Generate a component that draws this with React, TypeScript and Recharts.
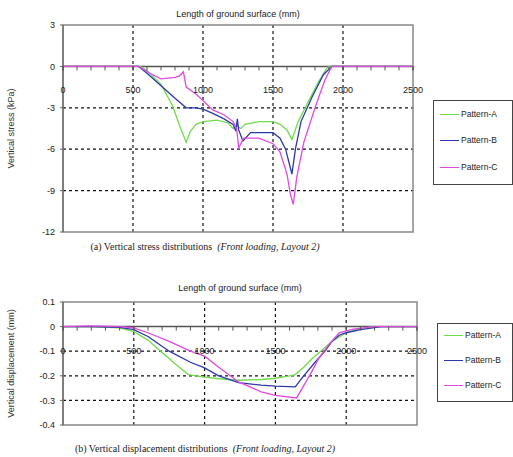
import React from 'react';
import { LineChart, Line, XAxis, YAxis, CartesianGrid, ReferenceLine, ReferenceDot, ReferenceArea } from 'recharts';

// ---------- Data: (a) vertical stress ----------
const stressAx = [0, 550, 600, 700, 780, 840, 880, 910, 950, 1000, 1100, 1180, 1215, 1240, 1270, 1300, 1400, 1500, 1550, 1600, 1635, 1680, 1750, 1820, 1880, 1900, 2500];
const stressAy = [0, 0, -0.3, -1.3, -2.8, -4.5, -5.5, -4.7, -4.2, -4.0, -3.9, -4.1, -4.5, -4.3, -4.5, -4.2, -4.0, -4.0, -4.2, -4.6, -5.3, -4.0, -2.6, -1.2, -0.2, 0, 0];
const stressBx = [0, 540, 600, 700, 800, 880, 950, 1000, 1070, 1150, 1215, 1235, 1245, 1255, 1285, 1340, 1400, 1500, 1550, 1590, 1620, 1635, 1660, 1700, 1780, 1860, 1920, 2500];
const stressBy = [0, 0, -0.5, -1.4, -2.3, -3.0, -3.0, -3.1, -3.4, -3.8, -4.2, -4.7, -3.8, -4.6, -5.4, -4.8, -4.8, -4.8, -5.2, -6.0, -7.2, -7.8, -6.0, -4.0, -2.2, -0.6, 0, 0];
const stressCx = [0, 540, 620, 700, 800, 830, 860, 880, 950, 1070, 1150, 1215, 1240, 1255, 1290, 1340, 1400, 1500, 1550, 1600, 1625, 1645, 1670, 1720, 1800, 1870, 1920, 2500];
const stressCy = [0, 0, -0.5, -0.9, -0.8, -0.7, -0.4, -1.5, -2.0, -3.15, -3.5, -4.0, -4.5, -5.9, -5.2, -5.2, -5.2, -5.6, -6.2, -7.8, -9.3, -10.0, -8.0, -5.5, -3.0, -1.0, 0, 0];

// ---------- Data: (b) vertical displacement ----------
const dispAx = [0, 200, 400, 500, 600, 720, 800, 885, 1000, 1100, 1250, 1400, 1500, 1600, 1640, 1700, 1760, 1820, 1900, 2000, 2080, 2200, 2500];
const dispAy = [0, 0, -0.005, -0.02, -0.055, -0.115, -0.155, -0.195, -0.205, -0.212, -0.218, -0.215, -0.21, -0.2, -0.195, -0.165, -0.13, -0.1, -0.06, -0.025, -0.01, 0, 0];
const dispBx = [0, 200, 400, 500, 600, 750, 900, 1000, 1100, 1240, 1400, 1500, 1640, 1700, 1780, 1850, 1900, 1950, 2000, 2100, 2250, 2500];
const dispBy = [0, 0, -0.003, -0.012, -0.04, -0.1, -0.145, -0.168, -0.2, -0.228, -0.238, -0.242, -0.245, -0.2, -0.145, -0.1, -0.06, -0.035, -0.025, -0.012, 0, 0];
const dispCx = [0, 200, 400, 500, 600, 750, 900, 1000, 1100, 1240, 1400, 1500, 1650, 1700, 1760, 1805, 1875, 1950, 2050, 2200, 2500];
const dispCy = [0, 0.003, 0, -0.005, -0.025, -0.06, -0.1, -0.12, -0.165, -0.225, -0.265, -0.28, -0.29, -0.24, -0.18, -0.13, -0.075, -0.025, -0.01, 0, 0];

const seriesNames = ['Pattern-A', 'Pattern-B', 'Pattern-C'];
const seriesColors = ['#6fdc4a', '#2b3aa8', '#e04ae0'];

const xMajorTicks = [0, 500, 1000, 1500, 2000, 2500];
const xMinorTicks = Array.from({ length: 26 }, (_, i) => i * 100);
const xGridValues = [500, 1000, 1500, 2000];

const stressTicks = [3, 0, -3, -6, -9, -12];
const stressGrid = [-3, -6, -9];
const dispTicks = [0.1, 0, -0.1, -0.2, -0.3, -0.4];
const dispGrid = [-0.1, -0.2, -0.3];

const toPts = (xs: number[], ys: number[]) => xs.map((x, i) => ({ x, y: ys[i] }));

const stressSeries = [toPts(stressAx, stressAy), toPts(stressBx, stressBy), toPts(stressCx, stressCy)];
const dispSeries = [toPts(dispAx, dispAy), toPts(dispBx, dispBy), toPts(dispCx, dispCy)];

const SANS = 'Arial, "Liberation Sans", sans-serif';
const SERIF = '"Times New Roman", "Liberation Serif", serif';

const MinorTick = (props: any) => (
  <line x1={props.cx} x2={props.cx} y1={props.cy} y2={props.cy + 4} stroke="#555" strokeWidth={1} />
);

const majorTickLabel = (label: number) => (props: any) => (
  <g>
    <line x1={props.cx} x2={props.cx} y1={props.cy} y2={props.cy + 4} stroke="#555" strokeWidth={1} />
    <text x={props.cx} y={props.cy + 27} textAnchor="middle" fontSize={9} fontFamily={SANS} fill="#222">
      {label}
    </text>
  </g>
);

const LegendBox = ({ left, top, width, height, rows }: any) => (
  <div
    style={{
      position: 'absolute',
      left,
      top,
      width,
      height,
      border: '1px solid #444',
      boxSizing: 'border-box',
      background: '#fff',
    }}
  >
    {seriesNames.map((n, i) => (
      <div
        key={n}
        style={{ position: 'absolute', left: 6, top: rows[i] - top - 7, height: 12, display: 'flex', alignItems: 'center' }}
      >
        <div style={{ width: 19, height: 0, borderTop: `1.5px solid ${seriesColors[i]}` }} />
        <span style={{ fontFamily: SANS, fontSize: 8.5, color: '#222', marginLeft: 2, whiteSpace: 'nowrap' }}>{n}</span>
      </div>
    ))}
  </div>
);

const Panel = ({ series, domain, ticks, grid, yLabel, height, marginRight, marginBottom, fmt }: any) => (
  <LineChart width={513} height={height} margin={{ top: 25, right: marginRight, bottom: marginBottom, left: 43 }}>
    <XAxis type="number" dataKey="x" domain={[0, 2500]} hide allowDuplicatedCategory={false} />
    <YAxis
      type="number"
      domain={domain}
      ticks={ticks}
      width={20}
      interval={0}
      tickSize={3}
      tickMargin={5}
      axisLine={{ stroke: '#666', strokeWidth: 1.2 }}
      tickLine={{ stroke: '#666' }}
      tick={{ fontSize: 9, fontFamily: SANS, fill: '#222' }}
      tickFormatter={fmt}
      label={{ value: yLabel, angle: -90, position: 'center', dx: -42, style: { fontSize: 9, fontFamily: SANS, fill: '#333' } }}
    />
    <CartesianGrid
      horizontalValues={grid}
      verticalValues={xGridValues}
      stroke="#111"
      strokeDasharray="3 3"
      strokeWidth={1.2}
    />
    <ReferenceArea x1={0} x2={2500} y1={domain[0]} y2={domain[1]} fill="none" stroke="#888" strokeWidth={1.5} ifOverflow="visible" />
    <ReferenceLine y={0} stroke="#555" strokeWidth={1.5} />
    {xMinorTicks.map((t) => (
      <ReferenceDot key={'m' + t} x={t} y={0} r={0} shape={MinorTick} ifOverflow="visible" />
    ))}
    {xMajorTicks.map((t) => (
      <ReferenceDot key={'M' + t} x={t} y={0} r={0} shape={majorTickLabel(t)} ifOverflow="visible" />
    ))}
    {series.map((pts: any, i: number) => (
      <Line
        key={seriesNames[i]}
        data={pts}
        dataKey="y"
        name={seriesNames[i]}
        type="linear"
        stroke={seriesColors[i]}
        strokeWidth={1.3}
        dot={false}
        isAnimationActive={false}
      />
    ))}
  </LineChart>
);

const abs = (left: number, top: number, extra: any = {}) => ({ position: 'absolute' as const, left, top, ...extra });

export default function App() {
  return (
    <div style={{ position: 'absolute', left: 0, top: 0, width: 513, height: 457, background: '#fff' }}>
      <div style={abs(0, 0)}>
        <Panel
          series={stressSeries}
          domain={[-12, 3]}
          ticks={stressTicks}
          grid={stressGrid}
          yLabel="Vertical stress (kPa)"
          height={240}
          marginRight={100}
          marginBottom={8}
          fmt={(v: number) => String(v)}
        />
      </div>
      <div style={abs(63, 9, { width: 350, textAlign: 'center', fontFamily: SANS, fontSize: 9, color: '#222' })}>
        Length of ground surface (mm)
      </div>
      <LegendBox left={433} top={100} width={80} height={85} rows={[114, 140, 167]} />
      <div style={abs(0, 241, { width: 410, textAlign: 'center', fontFamily: SERIF, fontSize: 10, color: '#222', whiteSpace: 'pre' })}>
        (a) Vertical stress distributions  <i>(Front loading, Layout 2)</i>
      </div>

      <div style={abs(0, 277)}>
        <Panel
          series={dispSeries}
          domain={[-0.4, 0.1]}
          ticks={dispTicks}
          grid={dispGrid}
          yLabel="Vertical displacement (mm)"
          height={155}
          marginRight={96}
          marginBottom={7}
          fmt={(v: number) => String(v)}
        />
      </div>
      <div style={abs(63, 283, { width: 354, textAlign: 'center', fontFamily: SANS, fontSize: 9, color: '#222' })}>
        Length of ground surface (mm)
      </div>
      <LegendBox left={437} top={323} width={76} height={79} rows={[335, 360, 385]} />
      <div style={abs(0, 443, { width: 410, textAlign: 'center', fontFamily: SERIF, fontSize: 10, color: '#222', whiteSpace: 'pre' })}>
        (b) Vertical displacement distributions  <i>(Front loading, Layout 2)</i>
      </div>
    </div>
  );
}
